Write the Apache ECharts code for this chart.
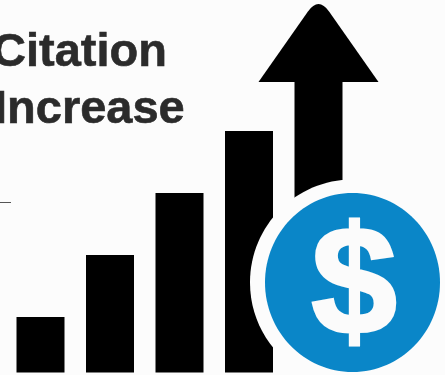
<!DOCTYPE html>
<html>
<head>
<meta charset="utf-8">
<style>
  html, body { margin: 0; padding: 0; background: #fcfcfc; overflow: hidden; }
  #chart { width: 445px; height: 375px; }
</style>
<script src="https://cdn.jsdelivr.net/npm/echarts@6/dist/echarts.min.js"></script>
</head>
<body>
<div id="chart"></div>
<script>
// Rising bars, followed by an arrow that carries the trend upward
const categories = ['Step 1', 'Step 2', 'Step 3', 'Step 4', 'Step 5'];
const barValues = [55.5, 117.5, 179.5, 241.5];
const arrowStep = ['Step 5'];
const arrowTailValues = [120];
const arrowNeckValues = [291];
const arrowTipValues = [368.5];
const titleLines = ['Citation', 'Increase'];

const chart = echarts.init(document.getElementById('chart'), null, { renderer: 'canvas' });

chart.setOption({
  backgroundColor: '#fcfcfc',
  animation: false,
  grid: { left: 5.75, top: 0.5, width: 347.5, height: 372 },
  xAxis: {
    type: 'category',
    data: categories,
    show: false
  },
  yAxis: { type: 'value', min: 0, max: 372, show: false },
  series: [
    {
      type: 'bar',
      data: barValues,
      barWidth: 48,
      itemStyle: { color: '#000000' },
      z: 2
    },
    {
      // Arrow shaft and head, with a softened tip
      type: 'custom',
      data: arrowStep.map((name, i) => [name, arrowTipValues[i], arrowNeckValues[i], arrowTailValues[i]]),
      encode: { x: 0, y: 1 },
      renderItem(params, api) {
        const tip = api.coord([api.value(0), api.value(1)]);
        const neck = api.coord([api.value(0), api.value(2)]);
        const tail = api.coord([api.value(0), api.value(3)]);
        const x = tip[0];
        const headHalf = 60;
        const shaftHalf = 24;
        const slope = 1.42;
        const apexY = tip[1] - 7.5;
        const shoulderY = tip[1] + 7.5;
        const shoulderDx = 15 / slope;
        const y0 = neck[1] + 0.5;
        return {
          type: 'group',
          children: [
            {
              type: 'rect',
              shape: { x: x - shaftHalf, y: y0 - 1, width: shaftHalf * 2, height: tail[1] - y0 + 1 },
              style: { fill: '#000000' }
            },
            {
              type: 'path',
              shape: {
                pathData: `M${x - headHalf} ${y0} L${x - shoulderDx} ${shoulderY} ` +
                  `Q${x} ${apexY} ${x + shoulderDx} ${shoulderY} L${x + headHalf} ${y0} Z`,
                layout: 'cover',
                x: x - headHalf,
                y: tip[1],
                width: headHalf * 2,
                height: y0 - tip[1]
              },
              style: { fill: '#000000' }
            }
          ]
        };
      },
      z: 2
    }
  ],
  graphic: [
    {
      type: 'text',
      z: 5,
      x: -8,
      y: 30,
      style: {
        text: titleLines[0],
        font: 'bold 47px "Liberation Sans", Arial, sans-serif',
        fill: '#2b2b2b',
        stroke: '#2b2b2b',
        lineWidth: 0.6
      }
    },
    {
      type: 'text',
      z: 5,
      x: -6,
      y: 87,
      style: {
        text: titleLines[1],
        font: 'bold 47px "Liberation Sans", Arial, sans-serif',
        fill: '#2b2b2b',
        stroke: '#2b2b2b',
        lineWidth: 0.6
      }
    },
    {
      type: 'line',
      z: 5,
      shape: { x1: 0, y1: 202.5, x2: 11, y2: 202.5 },
      style: { stroke: '#555555', lineWidth: 1 }
    },
    {
      type: 'ellipse',
      z: 10,
      shape: { cx: 352.5, cy: 282.5, rx: 102.5, ry: 103 },
      style: { fill: '#fcfcfc' }
    },
    {
      type: 'ellipse',
      z: 11,
      shape: { cx: 352.5, cy: 282.5, rx: 87.5, ry: 89.5 },
      style: { fill: '#0a86c8' }
    },
    {
      type: 'text',
      z: 12,
      x: 354,
      y: 291.5,
      style: {
        text: '$',
        font: 'bold 154px "Liberation Sans", Arial, sans-serif',
        fill: '#fbfbfb',
        stroke: '#fbfbfb',
        lineWidth: 3,
        align: 'center',
        verticalAlign: 'middle'
      }
    }
  ]
});
</script>
</body>
</html>
